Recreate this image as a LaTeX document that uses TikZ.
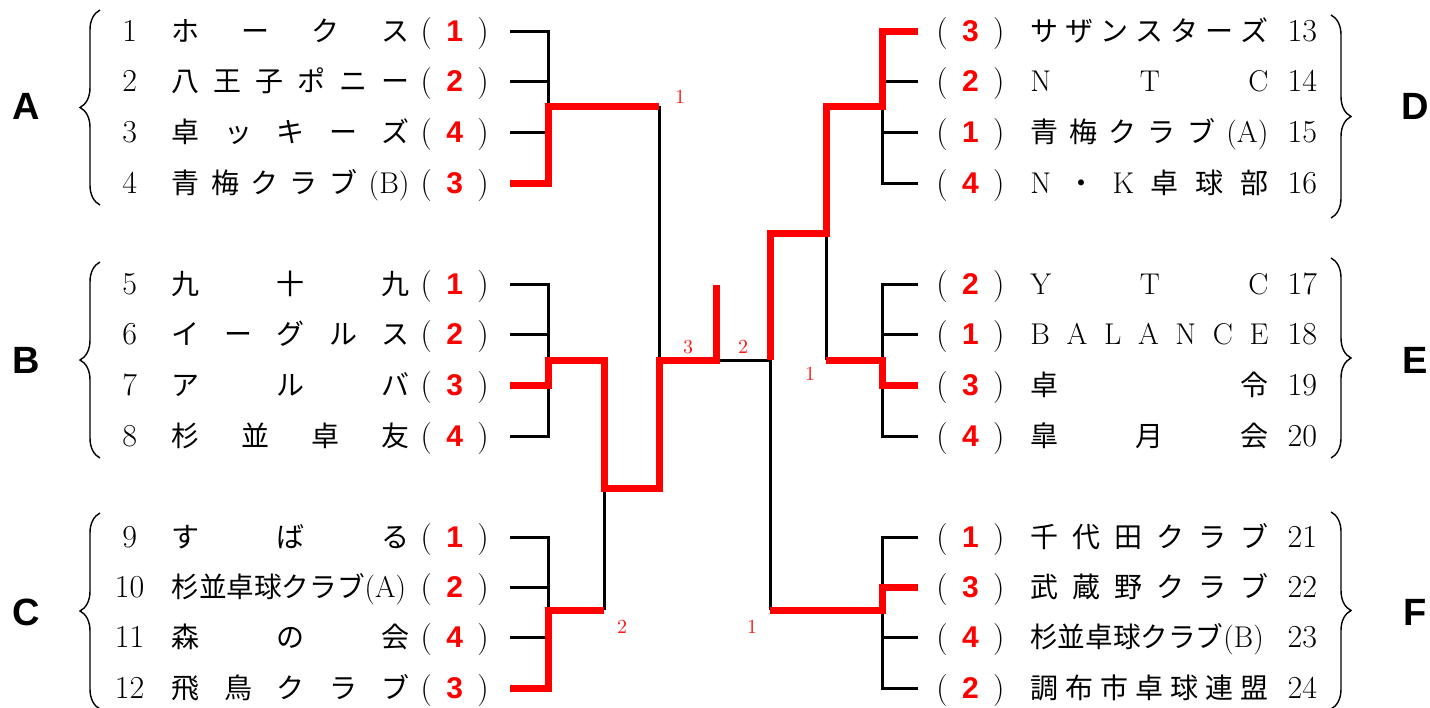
\documentclass[tikz,border=0pt]{standalone}
\usepackage{fontspec}
\newfontfamily\jp{Noto Sans CJK JP}
\newfontfamily\gt{Liberation Sans}
\usetikzlibrary{decorations.pathreplacing}

\newcommand\lt[1]{{\rmfamily\fontsize{15}{16}\selectfont #1}}
\newcommand\spr[1]{\makebox[119pt][s]{\jp\fontsize{14}{16}\selectfont\foreach \ch [count=\ci] in {#1}{\ifnum\ci>1\hfill\fi\ch}}}
\newcommand\scr[1]{\makebox[34pt]{(\hfill{\gt\bfseries\fontsize{15}{16}\selectfont\color{red}#1}\hfill)}}
\newcommand\rowL[3]{\makebox[20pt]{#1}\kern11pt\spr{#2}\kern5.5pt\scr{#3}\kern10.5pt}
\newcommand\rowR[3]{\kern9pt\scr{#1}\kern13pt\spr{#2}\kern7pt\makebox[20pt]{#3}}

\begin{document}
\begin{tikzpicture}[x=0.5pt, y=-0.5pt, tmL/.style={anchor=east, inner sep=0pt, text height=12pt, text depth=2pt, font=\fontsize{16}{18}\selectfont}, tmR/.style={tmL, anchor=west}, grp/.style={inner sep=0pt, font=\gt\bfseries\fontsize{19}{20}\selectfont}, sc/.style={inner sep=0pt, text=red!90, font=\fontsize{10}{12}\selectfont}, ln/.style={line width=1.5pt}, win/.style={line width=3.5pt, red}, brc/.style={decorate, decoration={brace, amplitude=10pt}, line width=0.7pt}]
\useasboundingbox (0,0) rectangle (1430,707);
% teams, left
\node[tmL] (t1) at (510,31) {\rowL{1}{ホ,ー,ク,ス}{1}};
\node[tmL] (t2) at (510,81) {\rowL{2}{八,王,子,ポ,ニ,ー}{2}};
\node[tmL] (t3) at (510,132) {\rowL{3}{卓,ッ,キ,ー,ズ}{4}};
\node[tmL] (t4) at (510,183) {\rowL{4}{青,梅,ク,ラ,ブ,\lt{(B)}}{3}};
\node[tmL] (t5) at (510,284) {\rowL{5}{九,十,九}{1}};
\node[tmL] (t6) at (510,334) {\rowL{6}{イ,ー,グ,ル,ス}{2}};
\node[tmL] (t7) at (510,385) {\rowL{7}{ア,ル,バ}{3}};
\node[tmL] (t8) at (510,436) {\rowL{8}{杉,並,卓,友}{4}};
\node[tmL] (t9) at (510,537) {\rowL{9}{す,ば,る}{1}};
\node[tmL] (t10) at (510,587) {\rowL{10}{\scalebox{0.985}[1]{杉並卓球クラブ\lt{(A)}}}{2}};
\node[tmL] (t11) at (510,637) {\rowL{11}{森,の,会}{4}};
\node[tmL] (t12) at (510,688) {\rowL{12}{飛,鳥,ク,ラ,ブ}{3}};
% teams, right
\node[tmR] (t13) at (918,31) {\rowR{3}{サ,ザ,ン,ス,タ,ー,ズ}{13}};
\node[tmR] (t14) at (918,81) {\rowR{2}{\lt{N},\lt{T},\lt{C}}{14}};
\node[tmR] (t15) at (918,132) {\rowR{1}{青,梅,ク,ラ,ブ,\lt{(A)}}{15}};
\node[tmR] (t16) at (918,183) {\rowR{4}{\lt{N},・,\lt{K},卓,球,部}{16}};
\node[tmR] (t17) at (918,284) {\rowR{2}{\lt{Y},\lt{T},\lt{C}}{17}};
\node[tmR] (t18) at (918,334) {\rowR{1}{\lt{B},\lt{A},\lt{L},\lt{A},\lt{N},\lt{C},\lt{E}}{18}};
\node[tmR] (t19) at (918,385) {\rowR{3}{卓,令}{19}};
\node[tmR] (t20) at (918,436) {\rowR{4}{皐,月,会}{20}};
\node[tmR] (t21) at (918,537) {\rowR{1}{千,代,田,ク,ラ,ブ}{21}};
\node[tmR] (t22) at (918,587) {\rowR{3}{武,蔵,野,ク,ラ,ブ}{22}};
\node[tmR] (t23) at (918,637) {\rowR{4}{\scalebox{0.985}[1]{杉並卓球クラブ\lt{(B)}}}{23}};
\node[tmR] (t24) at (918,688) {\rowR{2}{調,布,市,卓,球,連,盟}{24}};
% groups
\node[grp] (gA) at (26,106) {A}; \node[grp] (gB) at (26,360) {B}; \node[grp] (gC) at (26,612) {C};
\node[grp] (gD) at (1415,106) {D}; \node[grp] (gE) at (1415,360) {E}; \node[grp] (gF) at (1415,612) {F};
\draw[brc] (100,205) -- (100,10); \draw[brc] (100,458) -- (100,262); \draw[brc] (100,709) -- (100,513);
\draw[brc] (1331,15) -- (1331,218); \draw[brc] (1331,258) -- (1331,458); \draw[brc] (1331,512) -- (1331,709);
% junctions
\coordinate (jA) at (548,106); \coordinate (jB) at (548,360); \coordinate (jC) at (548,610);
\coordinate (jBC) at (604,488); \coordinate (jL) at (659,360); \coordinate (fL) at (716,285);
\coordinate (jR) at (770,360); \coordinate (jDE) at (826,233);
\coordinate (jD) at (882,106); \coordinate (jE) at (882,360); \coordinate (jF) at (882,610);
% bracket lines
\draw[ln] (t1.east) -| (jA) |- (t4.east); \draw[ln] (t2.east) -- (t2.east -| jA); \draw[ln] (t3.east) -- (t3.east -| jA);
\draw[ln] (t5.east) -| (jB) |- (t8.east); \draw[ln] (t6.east) -- (t6.east -| jB); \draw[ln] (t7.east) -- (t7.east -| jB);
\draw[ln] (t9.east) -| (jC) |- (t12.east); \draw[ln] (t10.east) -- (t10.east -| jC); \draw[ln] (t11.east) -- (t11.east -| jC);
\draw[ln] (t13.west) -| (jD) |- (t16.west); \draw[ln] (t14.west) -- (t14.west -| jD); \draw[ln] (t15.west) -- (t15.west -| jD);
\draw[ln] (t17.west) -| (jE) |- (t20.west); \draw[ln] (t18.west) -- (t18.west -| jE); \draw[ln] (t19.west) -- (t19.west -| jE);
\draw[ln] (t21.west) -| (jF) |- (t24.west); \draw[ln] (t22.west) -- (t22.west -| jF); \draw[ln] (t23.west) -- (t23.west -| jF);
\draw[ln] (jA -| jL) -- (jL) -- (jR); \draw[ln] (jC -| jBC) -- (jBC);
\draw[ln] (jE -| jDE) -- (jDE); \draw[ln] (jF -| jR) -- (jR);
% winners
\draw[win] (t4.east) -| (jA) -- (jA -| jL);
\draw[win] (t7.east) -| (jB) -- (jB -| jBC) -- (jBC) -- (jBC -| jL) -- (jL) -- (fL |- jL) -- (fL);
\draw[win] (t12.east) -| (jC) -- (jC -| jBC);
\draw[win] (t13.west) -| (jD) -- (jD -| jDE) -- (jDE) -- (jDE -| jR) -- (jR);
\draw[win] (t19.west) -| (jE) -- (jE -| jDE);
\draw[win] (t22.west) -| (jF) -- (jF -| jR);
% scores
\node[sc] (s1) at (680,97) {1}; \node[sc] (s2) at (688,347) {3}; \node[sc] (s3) at (743,347) {2};
\node[sc] (s4) at (810,374) {1}; \node[sc] (s5) at (622,627) {2}; \node[sc] (s6) at (752,627) {1};
\end{tikzpicture}
\end{document}
